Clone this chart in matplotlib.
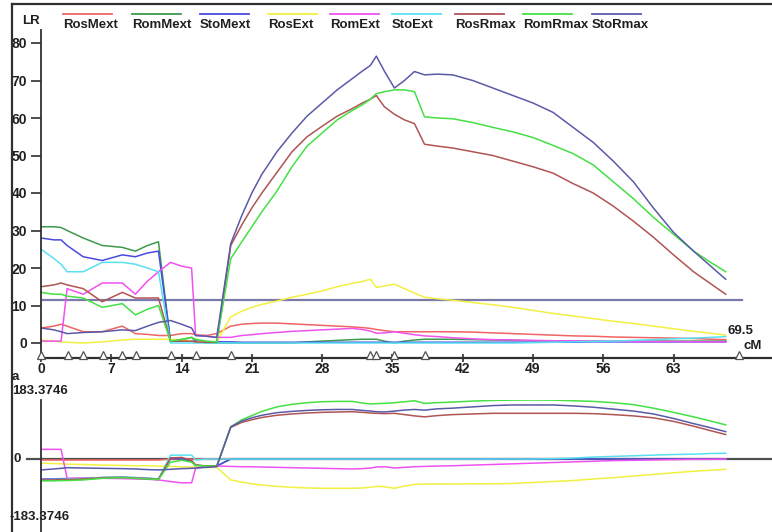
import matplotlib.pyplot as plt
from matplotlib.lines import Line2D

# positions along the linkage group (cM)
pos = [0, 1.3, 2.0, 2.6, 4.2, 6.1, 8.1, 9.4, 10.6, 11.7,
       12.9, 14.0, 15.0, 15.4, 16.5, 17.5, 18.9, 20.0, 21.0, 22.0,
       23.5, 25.0, 26.5, 28.0, 29.5, 31.0, 32.0, 32.8, 33.4, 34.2,
       35.2, 36.2, 37.2, 38.2, 39.5, 41.0, 43.0, 45.0, 47.0, 49.0,
       51.0, 53.0, 55.0, 57.0, 59.0, 61.0, 63.0, 65.0, 66.7, 68.2]

markers = [0, 2.65, 4.2, 6.15, 8.1, 9.45, 12.9, 15.4, 18.9,
           32.8, 33.4, 35.2, 38.2, 69.5]

threshold = 11.5
a_max = 183.3746
group_len = 69.5

# LR profiles
lr_ros_mext = [4.0, 4.5, 5.0, 4.5, 3.0, 3.0, 4.5, 2.5, 2.3, 2.0,
               2.0, 2.5, 2.5, 2.2, 2.0, 2.5, 4.5, 5.0, 5.2, 5.3,
               5.3, 5.1, 4.9, 4.7, 4.5, 4.3, 4.1, 3.9, 3.6, 3.3,
               3.0, 3.0, 3.0, 3.0, 3.0, 3.0, 2.9, 2.7, 2.5, 2.3,
               2.1, 1.9, 1.8, 1.6, 1.5, 1.4, 1.3, 1.2, 1.0, 0.9]
lr_rom_mext = [31.0, 31.0, 30.8, 30.0, 28.0, 26.0, 25.5, 24.5, 26.0, 27.0,
               0.3, 0.8, 1.5, 0.5, 0.0, 0.0, 0.0, 0.0, 0.0, 0.0,
               0.0, 0.0, 0.3, 0.5, 0.7, 0.9, 1.0, 1.0, 1.0, 0.5,
               0.0, 0.5, 0.8, 1.0, 1.0, 1.0, 0.9, 0.8, 0.7, 0.6,
               0.6, 0.5, 0.5, 0.5, 0.5, 0.5, 0.5, 0.5, 0.5, 0.5]
lr_sto_mext = [28.0, 27.5, 27.5, 26.0, 23.0, 22.0, 23.5, 23.0, 24.0, 24.5,
               0.5, 0.5, 0.5, 0.5, 0.3, 0.3, 0.3, 0.2, 0.2, 0.2,
               0.2, 0.2, 0.2, 0.2, 0.2, 0.2, 0.2, 0.2, 0.2, 0.2,
               0.2, 0.2, 0.2, 0.2, 0.2, 0.2, 0.2, 0.2, 0.2, 0.2,
               0.2, 0.2, 0.3, 0.3, 0.3, 0.3, 0.3, 0.3, 0.3, 0.3]
lr_ros_ext = [0.8, 0.5, 0.3, 0.2, 0.0, 0.3, 0.8, 1.0, 1.0, 1.0,
              1.0, 0.8, 0.5, 0.3, 0.2, 0.2, 7.0, 8.5, 9.5, 10.3,
              11.2, 12.2, 13.0, 13.9, 15.0, 15.9, 16.4, 17.0, 14.8, 15.2,
              15.7, 14.5, 13.3, 12.2, 11.8, 11.4, 10.8, 10.2, 9.5, 8.7,
              7.9, 7.2, 6.5, 5.8, 5.2, 4.5, 3.8, 3.1, 2.6, 2.1]
lr_rom_ext = [0.5, 0.5, 0.5, 14.5, 13.0, 16.0, 16.0, 13.0, 16.5, 19.0,
              21.5, 20.5, 20.0, 2.0, 1.8, 1.5, 1.5, 2.0, 2.2, 2.5,
              2.8, 3.1, 3.3, 3.5, 3.7, 3.9, 3.6, 3.2, 2.6, 2.7,
              3.0, 2.6, 2.2, 1.9, 1.7, 1.4, 1.1, 0.9, 0.8, 0.7,
              0.6, 0.6, 0.5, 0.5, 0.4, 0.4, 0.4, 0.3, 0.3, 0.3]
lr_sto_ext = [25.0, 22.5, 21.0, 19.0, 19.0, 21.5, 21.5, 21.0, 20.0, 19.0,
              0.0, 0.0, 0.0, 0.0, 0.0, 0.0, 0.0, 0.0, 0.0, 0.0,
              0.0, 0.0, 0.0, 0.0, 0.0, 0.0, 0.0, 0.0, 0.0, 0.0,
              0.0, 0.0, 0.0, 0.0, 0.0, 0.0, 0.0, 0.0, 0.0, 0.1,
              0.2, 0.3, 0.4, 0.5, 0.7, 0.9, 1.1, 1.3, 1.5, 1.7]
lr_ros_rmax = [15.0, 15.5, 16.0, 15.5, 14.5, 11.0, 13.5, 12.0, 12.0, 12.0,
               0.5, 0.5, 0.5, 0.3, 0.2, 0.2, 26.0, 31.5, 36.0, 40.0,
               45.5, 51.0, 55.0, 57.8, 60.5, 62.5, 64.0, 65.0, 66.0, 63.0,
               61.0, 59.5, 58.5, 53.0, 52.5, 52.0, 51.0, 50.0, 48.5, 47.0,
               45.3, 42.5, 40.0, 36.5, 32.5, 28.2, 23.5, 19.0, 15.8, 13.0]
lr_rom_rmax = [13.5, 13.0, 13.0, 12.5, 12.0, 9.5, 10.5, 7.5, 9.0, 10.0,
               0.5, 1.0, 1.5, 1.0, 0.5, 0.3, 22.5, 27.0, 31.0, 35.0,
               40.5, 47.0, 52.5, 56.0, 59.5, 62.0, 63.5, 65.0, 66.5, 67.0,
               67.5, 67.5, 67.0, 60.3, 60.0, 59.8, 58.8, 57.5, 56.3, 54.8,
               52.7, 50.5, 47.5, 43.0, 38.5, 33.5, 29.0, 24.5, 21.5, 19.0]
lr_sto_rmax = [4.0, 3.5, 3.0, 2.5, 2.8, 3.0, 3.5, 3.3, 4.5, 5.5,
               6.0, 5.0, 4.0, 2.0, 1.8, 1.5, 26.5, 34.0, 40.0, 45.0,
               51.0, 56.0, 60.5, 64.0, 67.5, 70.5, 72.5, 74.0, 76.5, 72.5,
               68.0, 70.0, 72.4, 71.5, 71.7, 71.5, 70.0, 68.0, 66.0, 64.0,
               61.5, 57.5, 53.5, 48.5, 43.0, 36.0, 29.5, 24.5, 20.5, 17.0]

# additive effects (a)
a_ros_mext = [-3, -3, -3, -3, -3, -3, -3, -3, -3, -3,
              0, 0, 0, 0, 0, 0, 1, 1, 1, 1,
              1, 1, 1, 1, 1, 1, 1, 1, 1, 1,
              1, 1, 1, 1, 1, 1, 1, 1, 1, 1,
              1, 1, 1, 1, 1, 1, 1, 1, 1, 1]
a_rom_mext = [-66, -66, -65, -65, -63, -59, -58, -60, -62, -64,
              4, 2, -6, -20, -22, -22, 0, 0, 0, 0,
              0, 0, 0, 0, 0, 0, 0, 0, 0, 0,
              0, 0, 0, 0, 0, 0, 0, 0, 0, 0,
              0, 0, 0, 0, 0, 0, 0, 0, 0, 0]
a_sto_mext = [-62, -62, -61, -61, -60, -58, -57, -58, -60, -62,
              2, 0, -8, -20, -22, -22, 0, 0, 0, 0,
              0, 0, 0, 0, 0, 0, 0, 0, 0, 0,
              0, 0, 0, 0, 0, 0, 0, 0, 0, 0,
              0, 0, 0, 0, 0, 0, 0, 0, 0, 0]
a_ros_ext = [-13, -14, -15, -16, -17, -19, -20, -21, -21, -22,
             -23, -24, -25, -25, -26, -26, -65, -72, -77, -81,
             -85, -88, -90, -91, -91, -91, -90, -88, -85, -86,
             -91, -84, -79, -78, -78, -78, -77, -77, -76, -73,
             -70, -67, -62, -58, -53, -48, -43, -38, -35, -32]
a_rom_ext = [30, 30, 30, -60, -60, -60, -61, -62, -63, -65,
             -70, -74, -74, -29, -24, -22, -23, -24, -24, -25,
             -26, -27, -28, -29, -30, -31, -30, -28, -25, -24,
             -28, -26, -24, -23, -22, -21, -19, -17, -15, -13,
             -11, -9, -7, -5, -4, -3, -2, -1, -1, 0]
a_sto_ext = [-64, -64, -63, -63, -61, -57, -56, -58, -60, -62,
             12, 12, 12, -3, 0, 0, 0, 0, 0, 0,
             0, 0, 0, 0, 0, 0, 0, 0, 0, 0,
             0, 0, 0, 0, 0, 0, 0, 0, 0, 0,
             1, 3, 6, 8, 10, 12, 14, 15, 17, 18]
a_ros_rmax = [-65, -65, -64, -64, -62, -58, -57, -59, -61, -63,
              3, 5, -5, -18, -22, -22, 98, 114, 122, 129,
              136, 140, 143, 145, 146, 147, 145, 143, 142, 141,
              142, 138, 134, 131, 135, 138, 140, 142, 142, 142,
              142, 142, 141, 138, 134, 128, 117, 102, 88, 76]
a_rom_rmax = [-68, -68, -67, -67, -65, -60, -58, -60, -62, -64,
              -10, -4, -10, -20, -22, -22, 100, 122, 135, 148,
              162, 170, 175, 178, 179, 179, 174, 171, 172, 173,
              175, 178, 181, 173, 175, 177, 180, 182, 183, a_max,
              183, 181, 179, 175, 169, 158, 145, 131, 118, 106]
a_sto_rmax = [-34, -31, -29, -27, -28, -29, -30, -31, -33, -34,
              -32, -30, -29, -28, -26, -24, 100, 118, 128, 136,
              144, 148, 151, 153, 154, 154, 151, 149, 147, 146,
              149, 152, 154, 152, 156, 158, 162, 166, 168, 168,
              168, 165, 161, 155, 149, 140, 126, 110, 97, 85]

names = ['RosMext', 'RomMext', 'StoMext', 'RosExt', 'RomExt', 'StoExt',
         'RosRmax', 'RomRmax', 'StoRmax']
colors = ['#f06464', '#3e9a4c', '#4a4ae0', '#f2f040', '#f052f0', '#58e0f2',
          '#b05454', '#44e044', '#5a5aa8']
lr_series = [lr_ros_mext, lr_rom_mext, lr_sto_mext, lr_ros_ext, lr_rom_ext,
             lr_sto_ext, lr_ros_rmax, lr_rom_rmax, lr_sto_rmax]
a_series = [a_ros_mext, a_rom_mext, a_sto_mext, a_ros_ext, a_rom_ext,
            a_sto_ext, a_ros_rmax, a_rom_rmax, a_sto_rmax]

plt.rcParams['font.family'] = ['Liberation Sans', 'DejaVu Sans']
plt.rcParams['font.weight'] = 'bold'

W, H = 772, 532
dark = '#303030'
ink = '#202020'
fs = 9.5


def fx(px):
    return px / W


def fy(py):
    return 1 - py / H


fig = plt.figure(figsize=(W / 100, H / 100), dpi=100)

# window frame
fig.add_artist(Line2D([fx(12), 1], [fy(4), fy(4)], color=dark, lw=1.6))
fig.add_artist(Line2D([fx(12), fx(12)], [fy(4), 0], color=dark, lw=1.6))

px_per_cm = 10.04
x_right = (W - 41) / px_per_cm

# ---- LR profile ----
ax = fig.add_axes([fx(41), fy(358), fx(W) - fx(41), fy(30) - fy(358)])
ax.set_xlim(0, x_right)
ax.set_ylim(-15 / 3.75, 313 / 3.75)
for s in ['top', 'right']:
    ax.spines[s].set_visible(False)
ax.spines['left'].set_color(dark)
ax.spines['left'].set_linewidth(1.3)
ax.spines['bottom'].set_color(dark)
ax.spines['bottom'].set_linewidth(1.6)

ax.set_yticks(range(0, 81, 10))
ax.set_xticks(range(0, 64, 7))
ax.tick_params(axis='y', direction='out', length=7, width=1.2, pad=3,
               labelsize=fs + 0.5, colors=dark, labelcolor=ink)
ax.tick_params(axis='x', direction='inout', length=6, width=1.2, pad=0,
               labelsize=fs + 0.5, colors=dark, labelcolor=ink)

ax.plot([0, group_len + 0.3], [threshold, threshold], color='#7a7aac', lw=1.6)
for vals, c in zip(lr_series, colors):
    ax.plot(pos, vals, color=c, lw=1.1)

ax.plot(markers, [-3.2] * len(markers), linestyle='none', marker='^',
        markersize=6, markerfacecolor='white', markeredgecolor='#505050',
        markeredgewidth=0.9, clip_on=False, zorder=5)

fig.text(fx(31), fy(21), 'LR', ha='center', va='center', fontsize=fs,
         color=ink)
fig.text(fx(727), fy(331), '69.5', ha='left', va='center', fontsize=fs,
         color=ink)
fig.text(fx(743), fy(346), 'cM', ha='left', va='center', fontsize=fs,
         color=ink)

# legend across the top
leg_x = [63, 132, 200, 268, 330, 392, 455, 523, 592]
for x0, name, c in zip(leg_x, names, colors):
    fig.add_artist(Line2D([fx(x0), fx(x0 + 49)], [fy(14), fy(14)],
                          color=c, lw=1.3))
    fig.text(fx(x0), fy(25), name, ha='left', va='center', fontsize=fs,
             color=ink)

# ---- additive effect ----
px_a = a_max / 59
ax2 = fig.add_axes([fx(41), 0, fx(W) - fx(41), fy(400)])
ax2.set_xlim(0, x_right)
ax2.set_ylim(-(H - 459) * px_a, a_max)
for s in ['top', 'right', 'bottom']:
    ax2.spines[s].set_visible(False)
ax2.spines['left'].set_color(dark)
ax2.spines['left'].set_linewidth(1.3)
ax2.set_xticks([])
ax2.set_yticks([])

ax2.plot([-14 / px_per_cm, x_right], [0, 0], color='#505050', lw=1.6,
         clip_on=False, zorder=1)
for vals, c in zip(a_series, colors):
    ax2.plot(pos, vals, color=c, lw=1.1)

fig.text(fx(12), fy(377), 'a', ha='left', va='center', fontsize=fs,
         color=ink)
fig.text(fx(12), fy(391), f'{a_max}', ha='left', va='center', fontsize=fs,
         color=ink)
fig.text(fx(13), fy(459), '0', ha='left', va='center', fontsize=fs,
         color=ink)
fig.text(fx(10), fy(517), f'-{a_max}', ha='left', va='center', fontsize=fs,
         color=ink)

fig.savefig('out.png', dpi=100)
